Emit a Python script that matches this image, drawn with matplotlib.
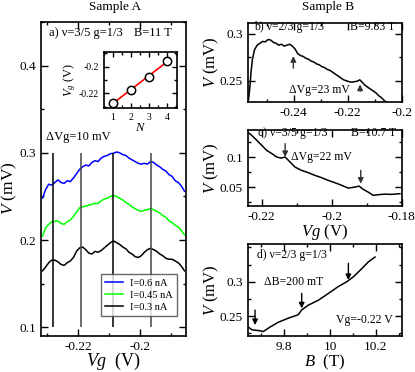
import numpy as np
import matplotlib
matplotlib.use("Agg")
import matplotlib.pyplot as plt
from matplotlib.ticker import MultipleLocator, FuncFormatter, FixedLocator

plt.rcParams['font.family'] = ['Liberation Serif', 'DejaVu Serif']
plt.rcParams['mathtext.fontset'] = 'custom'
plt.rcParams['mathtext.rm'] = 'Liberation Serif'
plt.rcParams['mathtext.it'] = 'Liberation Serif:italic'
plt.rcParams['axes.unicode_minus'] = False

# ---------------- data: panel a ----------------
vg_a = [-0.2315, -0.2305, -0.2295, -0.2285, -0.2275, -0.2265, -0.2255, -0.2245,
        -0.2235, -0.2225, -0.2215, -0.2205, -0.2195, -0.2185, -0.2175, -0.2165,
        -0.2155, -0.2145, -0.2135, -0.2125, -0.2115, -0.2105, -0.2095, -0.2085,
        -0.2075, -0.2065, -0.2055, -0.2045, -0.2035, -0.2025, -0.2015, -0.2005,
        -0.1995, -0.1985, -0.1975, -0.1965, -0.1955, -0.1945, -0.1935, -0.1925,
        -0.1915, -0.1905, -0.1895, -0.1885, -0.1875, -0.1865, -0.1855]
v_blue = [0.248, 0.258, 0.264, 0.263, 0.266, 0.269, 0.266, 0.265, 0.268, 0.267,
          0.271, 0.276, 0.281, 0.284, 0.286, 0.285, 0.289, 0.291, 0.290, 0.294,
          0.296, 0.297, 0.299, 0.2995, 0.301, 0.300, 0.298, 0.297, 0.294, 0.292,
          0.290, 0.288, 0.287, 0.288, 0.287, 0.290, 0.289, 0.286, 0.284, 0.281,
          0.279, 0.275, 0.273, 0.268, 0.266, 0.262, 0.256]
v_green = [0.2046, 0.214, 0.218, 0.221, 0.2215, 0.222, 0.219, 0.218, 0.221, 0.223,
           0.227, 0.232, 0.237, 0.238, 0.239, 0.240, 0.241, 0.242, 0.242, 0.245,
           0.247, 0.248, 0.250, 0.251, 0.250, 0.248, 0.246, 0.243, 0.241, 0.238,
           0.236, 0.234, 0.233, 0.234, 0.235, 0.236, 0.235, 0.233, 0.231, 0.228,
           0.226, 0.222, 0.220, 0.217, 0.215, 0.211, 0.206]
v_black = [0.1647, 0.169, 0.174, 0.177, 0.177, 0.175, 0.172, 0.171, 0.174, 0.176,
           0.180, 0.187, 0.191, 0.192, 0.189, 0.185, 0.184, 0.187, 0.186, 0.188,
           0.191, 0.194, 0.197, 0.199, 0.197, 0.195, 0.192, 0.190, 0.186, 0.184,
           0.181, 0.180, 0.182, 0.186, 0.189, 0.1905, 0.189, 0.187, 0.184, 0.182,
           0.179, 0.178, 0.178, 0.176, 0.174, 0.170, 0.1647]
labels_a = ['I=0.6 nA', 'I=0.45 nA', 'I=0.3 nA']
vlines_a = [-0.2282, -0.2189, -0.2085, -0.1963]

# inset
inset_n = [1, 2, 3, 4]
inset_vg = [-0.2270, -0.2175, -0.2075, -0.1957]

# ---------------- data: panel b ----------------
vg_b = [-0.2568, -0.2563, -0.2558, -0.2553, -0.2545, -0.2535, -0.2525, -0.2515,
        -0.2505, -0.2495, -0.2485, -0.2475, -0.2465, -0.2455, -0.2445, -0.2435,
        -0.2425, -0.2415, -0.2405, -0.2395, -0.2385, -0.2375, -0.2365, -0.2355,
        -0.2345, -0.2335, -0.2325, -0.2315, -0.2305, -0.2295, -0.2285, -0.2275,
        -0.2265, -0.2255, -0.2245, -0.2235, -0.2225, -0.2215, -0.2205, -0.2195,
        -0.2185, -0.2175, -0.2165, -0.2155, -0.2145, -0.2135, -0.2125, -0.2115,
        -0.2105, -0.2095, -0.2085, -0.2075, -0.2065, -0.2056]
v_b = [0.227, 0.240, 0.258, 0.272, 0.283, 0.288, 0.290, 0.292, 0.2915, 0.294,
       0.2935, 0.291, 0.290, 0.288, 0.289, 0.287, 0.288, 0.289, 0.287, 0.284,
       0.279, 0.277, 0.276, 0.274, 0.273, 0.271, 0.270, 0.268, 0.267, 0.265,
       0.264, 0.262, 0.261, 0.259, 0.257, 0.255, 0.253, 0.251, 0.250, 0.249,
       0.2485, 0.249, 0.2495, 0.251, 0.248, 0.245, 0.243, 0.241, 0.239, 0.237,
       0.234, 0.232, 0.229, 0.227]
arrows_b = [(-0.2401, 0.2635, 0.2763), (-0.2154, 0.2387, 0.2460)]

# ---------------- data: panel c ----------------
vg_c = [-0.2238, -0.2229, -0.2214, -0.2200, -0.2186, -0.2171, -0.2157, -0.2145,
        -0.2133, -0.2119, -0.2105, -0.2086, -0.2067, -0.2048, -0.2029, -0.2010,
        -0.1991, -0.1971, -0.1953, -0.1933, -0.1922, -0.1910, -0.1896, -0.1881,
        -0.1867, -0.1848, -0.1829, -0.1805]
v_c = [0.1407, 0.1362, 0.1278, 0.1195, 0.1112, 0.1057, 0.1000, 0.0983,
       0.1000, 0.0917, 0.0833, 0.0778, 0.0740, 0.0695, 0.0657, 0.0612,
       0.0573, 0.0528, 0.0483, 0.0500, 0.0517, 0.0462, 0.0417, 0.0362,
       0.0373, 0.0383, 0.0378, 0.0390]
arrows_c = [(-0.2133, 0.1223, 0.1000), (-0.1917, 0.0778, 0.0557)]

# ---------------- data: panel d ----------------
b_d = [9.645, 9.660, 9.688, 9.710, 9.739, 9.775, 9.819, 9.862, 9.877, 9.906,
       9.949, 9.993, 10.036, 10.073, 10.101, 10.138, 10.167, 10.196]
v_d = [0.234, 0.230, 0.229, 0.2275, 0.234, 0.241, 0.247, 0.252, 0.259, 0.266,
       0.273, 0.283, 0.293, 0.300, 0.307, 0.319, 0.329, 0.336]
arrows_d = [(9.674, 0.2587, 0.2369), (9.877, 0.2831, 0.2612), (10.08, 0.3268, 0.3025)]
yticks_d = [0.25, 0.3]

# ---------------- figure ----------------
fig = plt.figure(figsize=(4.15, 3.72), dpi=100)
W, H = 415.0, 372.0

def axes_px(x0, y0, x1, y1):
    return fig.add_axes([x0 / W, 1 - y1 / H, (x1 - x0) / W, (y1 - y0) / H])

fmt = FuncFormatter(lambda v, p: f'{round(v, 4):g}')

def style(ax, xmaj, xmin, ymaj, ymin, fs=9.5):
    ax.xaxis.set_major_locator(MultipleLocator(xmaj))
    ax.xaxis.set_minor_locator(MultipleLocator(xmin))
    ax.yaxis.set_major_locator(MultipleLocator(ymaj))
    ax.yaxis.set_minor_locator(MultipleLocator(ymin))
    ax.xaxis.set_major_formatter(fmt)
    ax.yaxis.set_major_formatter(fmt)
    ax.tick_params(which='both', direction='in', top=True, right=True, labelsize=fs)
    ax.tick_params(which='major', length=5, width=1)
    ax.tick_params(which='minor', length=2.5, width=1)
    for s in ax.spines.values():
        s.set_linewidth(1.2)

# panel a
axa = axes_px(41, 22, 186, 336)
axa.plot(vg_a, v_blue, color='#0000ff', lw=1.1, label=labels_a[0])
axa.plot(vg_a, v_green, color='#00ff00', lw=1.1, label=labels_a[1])
axa.plot(vg_a, v_black, color='black', lw=1.1, label=labels_a[2])
for i, x in enumerate(vlines_a):
    axa.vlines(x, 0.1, 0.3, color='black' if i % 2 == 0 else '#444444', lw=1.1)
axa.set_xlim(-0.232, -0.185)
axa.set_ylim(0.09, 0.45)
style(axa, 0.02, 0.01, 0.1, 0.05, fs=9.5)
axa.set_xlabel(r'$Vg$  (V)', fontsize=13)
axa.set_ylabel(r'$V$ (mV)', fontsize=12.5)
axa.xaxis.set_label_coords(0.5, -0.082)
axa.xaxis.label.set_va('center')
axa.yaxis.set_label_coords(-0.215, 0.47)
axa.yaxis.label.set_va('center')
axa.text(0.057, 0.964, 'a) ν=3/5 g=1/3', transform=axa.transAxes, fontsize=9, va='center')
axa.text(0.90, 0.964, 'B=11 T', transform=axa.transAxes, fontsize=9, va='center', ha='right')
axa.text(0.034, 0.635, 'ΔVg=10 mV', transform=axa.transAxes, fontsize=9, va='center')
leg = axa.legend(loc='lower right', bbox_to_anchor=(0.938, 0.064), borderaxespad=0,
                 fontsize=7.5, frameon=True, fancybox=False, handlelength=1.7,
                 handletextpad=0.7, borderpad=0.4, labelspacing=0.25)
leg.get_frame().set_edgecolor('#444444')
leg.get_frame().set_linewidth(1.0)

# inset
axi = axes_px(104, 52, 177, 108)
coef = np.polyfit(inset_n, inset_vg, 1)
axi.plot(inset_n, np.polyval(coef, inset_n), color='red', lw=1.2)
axi.plot(inset_n, inset_vg, 'o', mfc='white', mec='black', ms=6, mew=1.1)
axi.set_xlim(0.5, 4.55)
axi.set_ylim(-0.231, -0.189)
style(axi, 1, 0.5, 0.02, 0.01, fs=7)
axi.tick_params(which='major', length=3.5)
axi.tick_params(which='minor', length=2)
axi.set_xlabel(r'$N$', fontsize=9, labelpad=0)
axi.set_ylabel(r'$V_g$ (V)', fontsize=9, labelpad=1)

# panel b
axb = axes_px(247.7, 22.7, 401.7, 102.3)
axb.plot(vg_b, v_b, color='black', lw=1.1)
axb.set_xlim(-0.257, -0.2)
axb.set_ylim(0.227, 0.312)
style(axb, 0.02, 0.01, 0.05, 0.025)
axb.set_ylabel(r'$V$ (mV)', fontsize=12)
axb.yaxis.set_label_coords(-0.234, 0.5)
axb.yaxis.label.set_va('center')
axb.text(0.043, 0.95, 'b) ν=2/3 g=1/3', transform=axb.transAxes, fontsize=8.5, va='center')
axb.text(0.956, 0.95, 'B=9.83 T', transform=axb.transAxes, fontsize=8.5, va='center', ha='right')
axb.text(0.27, 0.155, 'ΔVg=23 mV', transform=axb.transAxes, fontsize=8.5, va='center')
for x, y0, y1 in arrows_b:
    axb.annotate('', xy=(x, y1), xytext=(x, y0),
                 arrowprops=dict(arrowstyle='-|>', color='#333333', lw=1.0,
                                 mutation_scale=8, shrinkA=0, shrinkB=0))

# panel c
axc = axes_px(247.7, 130, 401.7, 205.7)
axc.plot(vg_c, v_c, color='black', lw=1.1)
axc.set_xlim(-0.224, -0.18)
axc.set_ylim(0.019, 0.145)
style(axc, 0.02, 0.01, 0.05, 0.025)
axc.set_ylabel(r'$V$ (mV)', fontsize=12)
axc.yaxis.set_label_coords(-0.234, 0.5)
axc.yaxis.label.set_va('center')
axc.set_xlabel(r'$Vg$ (V)', fontsize=12)
axc.xaxis.set_label_coords(0.5, -0.345)
axc.xaxis.label.set_va('center')
axc.text(0.07, 0.955, 'c) ν=3/5 g=1/3', transform=axc.transAxes, fontsize=8.5, va='center')
axc.text(0.967, 0.955, 'B=10.7 T', transform=axc.transAxes, fontsize=8.5, va='center', ha='right')
axc.text(0.281, 0.647, 'ΔVg=22 mV', transform=axc.transAxes, fontsize=8.5, va='center')
for x, y0, y1 in arrows_c:
    axc.annotate('', xy=(x, y1), xytext=(x, y0),
                 arrowprops=dict(arrowstyle='-|>', color='#333333', lw=1.0,
                                 mutation_scale=8, shrinkA=0, shrinkB=0))

# panel d
axd = axes_px(247.7, 244, 401.7, 336)
axd.plot(b_d, v_d, color='black', lw=1.1)
axd.set_xlim(9.642, 10.312)
axd.set_ylim(0.221, 0.355)
style(axd, 0.2, 0.1, 0.05, 0.025)
axd.yaxis.set_major_locator(FixedLocator(yticks_d))
axd.set_ylabel(r'$V$ (mV)', fontsize=12)
axd.yaxis.set_label_coords(-0.234, 0.5)
axd.yaxis.label.set_va('center')
axd.set_xlabel(r'$B$  (T)', fontsize=12)
axd.xaxis.set_label_coords(0.5, -0.285)
axd.xaxis.label.set_va('center')
axd.text(0.058, 0.88, 'd) ν=2/3 g=1/3', transform=axd.transAxes, fontsize=8.5, va='center')
axd.text(9.84, 0.300, 'ΔB=200 mT', fontsize=8.5, va='center', ha='center')
axd.text(0.945, 0.174, 'Vg=-0.22 V', transform=axd.transAxes, fontsize=8.5, va='center', ha='right')
for x, y0, y1 in arrows_d:
    axd.annotate('', xy=(x, y1), xytext=(x, y0),
                 arrowprops=dict(arrowstyle='-|>', color='black', lw=1.0,
                                 mutation_scale=8, shrinkA=0, shrinkB=0))

fig.text(115 / W, 1 - 7 / H, 'Sample A', fontsize=9.5, ha='center', va='center')
fig.text(328 / W, 1 - 7 / H, 'Sample B', fontsize=9.5, ha='center', va='center')

fig.savefig('out.png', dpi=100)
